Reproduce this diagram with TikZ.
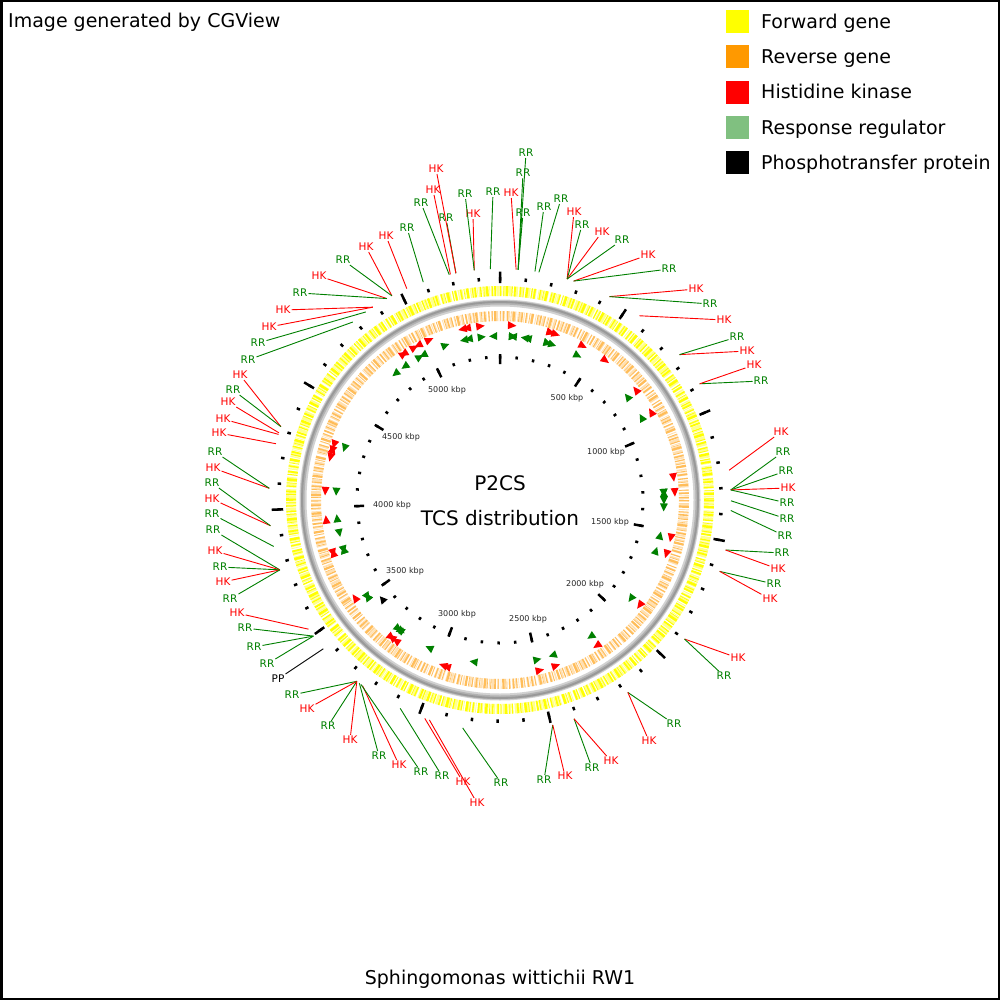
\documentclass[tikz,border=0pt]{standalone}
\usepackage{fontspec}
\setmainfont{DejaVu Sans}
\usetikzlibrary{calc}

\definecolor{HK}{RGB}{255,0,0}
\definecolor{RR}{RGB}{0,128,0}
\definecolor{PP}{RGB}{0,0,0}
\definecolor{fwd}{RGB}{255,255,0}
\definecolor{rev}{RGB}{255,153,0}
\definecolor{rrkey}{RGB}{128,192,128}

\tikzstyle{feature label}=[inner sep=1pt, font=\fontsize{10.5}{12}\selectfont]
\tikzstyle{kbp label}=[inner sep=0pt, font=\fontsize{8}{9}\selectfont, text=black!85]
\tikzstyle{key box}=[minimum size=23pt, inner sep=0pt]
\tikzstyle{key text}=[anchor=base west, inner sep=0pt, font=\fontsize{19}{22}\selectfont]
\tikzstyle{big text}=[inner sep=0pt, font=\fontsize{19}{22}\selectfont]

% radius of the feature track for each kind
\def\trkHK{175}\def\trkRR{164}\def\trkPP{154}

\begin{document}
\begin{tikzpicture}[x=1pt,y=-1pt]
    \useasboundingbox (0,0) rectangle (1000,1000);
    \fill[white] (0,0) rectangle (1000,1000);
    \draw[line width=2.5pt] (1.25,1.25) rectangle (998.75,998.75);
    \coordinate (c) at (500,500);

    % gene rings: forward outside, reverse inside
    \draw[fwd!45, line width=10pt, dash pattern=on 2.6pt off 1.1pt on 1.2pt off 0.6pt on 3.1pt off 1.9pt on 0.8pt off 0.9pt]
        (c) circle (209);
    \draw[fwd, line width=10pt, dash pattern=on 1.3pt off 2.2pt on 0.7pt off 1.6pt on 2.5pt off 3.3pt on 1pt off 1.4pt on 1.8pt off 3.9pt]
        (c) circle (209);
    \draw[rev!30, line width=10pt, dash pattern=on 1.7pt off 1.4pt on 0.6pt off 0.9pt on 2.4pt off 2.2pt on 0.9pt off 1.5pt]
        (c) circle (184);
    \draw[rev!65, line width=10pt, dash pattern=on 1.1pt off 2.6pt on 0.6pt off 1.3pt on 2.2pt off 3.7pt on 0.8pt off 1.9pt on 1.6pt off 2.8pt]
        (c) circle (184);
    \draw[gray!35, line width=7pt] (c) circle (197);
    \draw[gray!60, line width=4pt] (c) circle (197.5);
    \draw[gray!80, line width=1.8pt] (c) circle (198);

    % scale ticks, one every 100 kbp (5382 kbp in all)
    \draw[line width=2.5pt] \foreach \k in {0,...,53}
    {
        ($(c)+(\k*6.68867-90:219.5)$) -- ($(c)+(\k*6.68867-90:223)$)
        ($(c)+(\k*6.68867-90:141.5)$) -- ($(c)+(\k*6.68867-90:144.5)$)
    };
    \draw[line width=2.5pt] \foreach \k in {0,5,...,50}
    {
        ($(c)+(\k*6.68867-90:217)$) -- ($(c)+(\k*6.68867-90:228.5)$)
        ($(c)+(\k*6.68867-90:136)$) -- ($(c)+(\k*6.68867-90:146)$)
    };
    \foreach \v/\x/\y in {500/567/398, 1000/606/452, 1500/610/522, 2000/585/584,
        2500/528/619, 3000/457/614, 3500/405/571, 4000/392/505, 4500/401/437, 5000/447/390}
        \node[kbp label] (k\v) at (\x,\y) {\v\ kbp};

    % features: angle / kind / strand / label position
    \foreach \t/\k/\d/\x/\y [count=\i] in {
        4.5/RR/1/526/153, 4.5/RR/-1/523/173, 4.5/RR/1/523/213, 4.0/HK/1/511/193,
        357.6/RR/-1/493/192, 353.6/HK/1/473/214, 353.6/RR/1/465/194, 349.0/RR/-1/446/218,
        349.0/HK/-1/436/169, 347.6/HK/-1/433/190, 347.3/RR/-1/421/203, 340.6/RR/1/407/228,
        336.2/HK/1/386/236, 332.1/HK/-1/366/247, 332.1/RR/-1/343/260, 330.7/HK/1/319/276,
        330.7/RR/1/300/293, 326.6/HK/1/283/310, 326.6/HK/-1/269/327, 324.5/RR/-1/258/343,
        320.4/RR/-1/248/360, 288.5/HK/-1/240/375, 288.5/RR/-1/233/390, 286.9/HK/1/228/402,
        286.5/HK/-1/223/419, 284.1/HK/-1/219/433, 272.9/HK/-1/213/468, 272.9/RR/-1/215/452,
        263.6/HK/1/212/499, 263.6/RR/1/212/483, 258.4/RR/-1/212/514, 252.4/RR/1/213/530,
        252.4/HK/1/215/551, 252.4/RR/-1/220/567, 252.4/HK/-1/223/582, 252.4/RR/1/230/599,
        236.0/HK/1/237/613, 233.9/RR/1/245/628, 233.9/RR/-1/254/647, 233.9/RR/1/267/664,
        229.9/PP/1/278/679, 218.3/RR/1/292/695, 218.3/HK/1/307/709, 218.3/RR/-1/328/726,
        218.3/HK/-1/350/740, 217.5/RR/1/379/756, 216.5/HK/1/399/765, 217.0/RR/-1/421/772,
        205.6/RR/1/442/776, 199.0/HK/1/463/782, 197.8/HK/1/477/803, 189.3/RR/1/501/783,
        166.8/RR/-1/544/780, 166.8/HK/-1/565/776, 161.3/RR/1/592/768, 161.3/HK/-1/611/761,
        146.4/RR/1/674/724, 146.4/HK/1/649/741, 127.0/HK/1/738/658, 127.0/RR/1/724/676,
        108.0/RR/-1/774/584, 108.0/HK/1/770/599, 102.5/RR/-1/782/553, 102.5/HK/1/778/569,
        92.6/RR/1/785/536, 90.2/RR/1/787/519, 87.5/RR/1/783/452, 87.5/RR/-1/786/471,
        87.5/HK/1/788/488, 87.5/RR/1/787/503, 82.6/HK/1/781/432, 59.8/RR/-1/761/381,
        59.8/HK/-1/754/365, 51.0/HK/-1/747/351, 51.0/RR/-1/737/337, 37.1/HK/1/724/320,
        28.3/HK/1/696/289, 28.3/RR/1/710/304, 18.6/HK/1/648/255, 18.6/RR/1/669/269,
        16.9/HK/1/574/212, 16.9/RR/1/582/225, 16.9/HK/1/602/232, 16.9/RR/1/622/240,
        9.7/RR/-1/561/199, 8.7/RR/-1/544/207}
    {
        \edef\trk{\csname trk\k\endcsname}
        \fill[\k] ($(c)+(\t-90+\d*1.4:\trk)$) -- ($(c)+(\t-90-\d*1.4:\trk-4)$)
            -- ($(c)+(\t-90-\d*1.4:\trk+4)$) -- cycle;
        \coordinate (s\i) at ($(c)+(\t-90:231)$);
        \node[feature label, text=\k] (l\i) at (\x,\y) {\k};
        \draw[\k, line width=0.9pt] (s\i) -- (l\i);
    }

    \node[inner sep=0pt, font=\fontsize{20}{24}\selectfont] (title) at (500,483) {P2CS};
    \node[inner sep=0pt, font=\fontsize{20}{24}\selectfont] (subtitle) at (500,518) {TCS distribution};
    \node[big text, anchor=base west] (credit) at (8,28) {Image generated by CGView};
    \node[big text, anchor=base] (organism) at (500,984) {Sphingomonas wittichii RW1};

    % legend
    \foreach \n/\col/\txt [count=\j] in {fwd/fwd/Forward gene, rev/rev/Reverse gene,
        hk/HK/Histidine kinase, rr/rrkey/Response regulator, pp/black/Phosphotransfer protein}
    {
        \pgfmathsetmacro\ky{21.5+(\j-1)*35.3}
        \node[key box, fill=\col] (key\n) at (737.5,\ky) {};
        \node[key text] (txt\n) at (761,\ky+6.8) {\txt};
    }
\end{tikzpicture}
\end{document}
